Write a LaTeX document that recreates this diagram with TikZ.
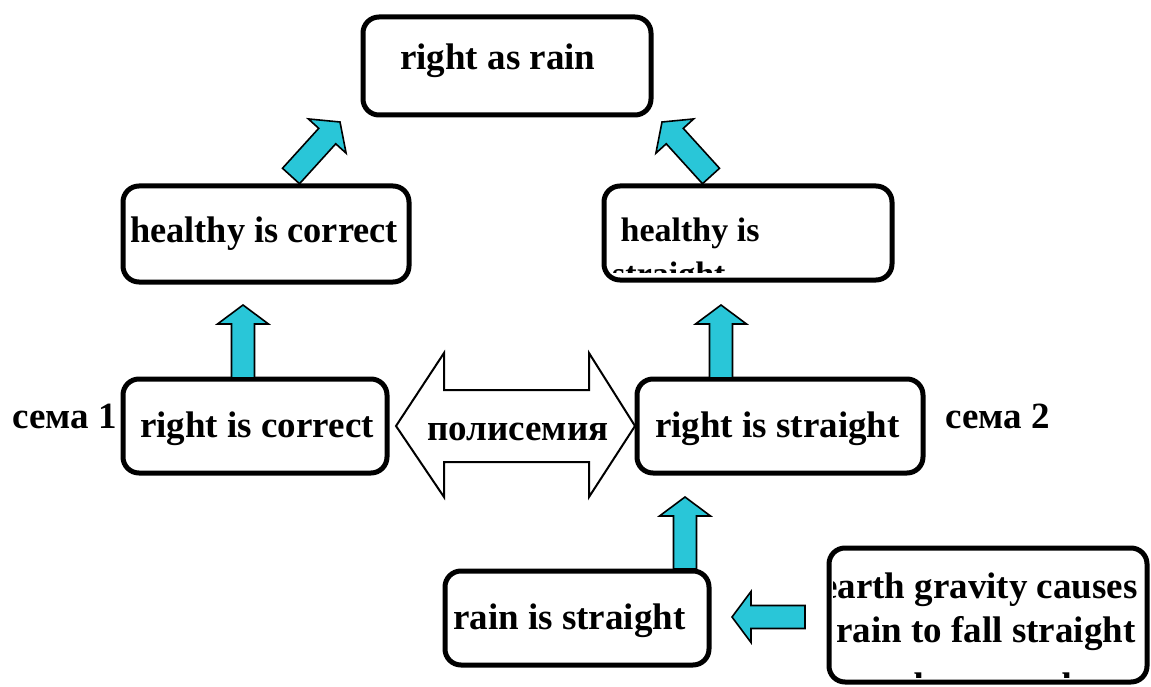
\documentclass[tikz,border=0pt]{standalone}
\usepackage{fontspec}
\setmainfont{Liberation Serif}
\usetikzlibrary{calc}
\definecolor{arrcyan}{RGB}{41,198,216}
\tikzset{
  box/.style={draw=black, line width=5pt, rounded corners=16pt, fill=white, inner sep=0pt},
  lbl/.style={font=\fontsize{37}{44}\selectfont\bfseries, inner sep=0pt, anchor=base west},
  slbl/.style={font=\fontsize{34}{40}\selectfont\bfseries, inner sep=0pt, anchor=base west},
  clbl/.style={font=\fontsize{37}{44}\selectfont\bfseries, inner sep=0pt, anchor=base},
  blockarrow/.style={draw=black, line width=1.6pt, fill=arrcyan, line join=miter},
  polyarrow/.style={draw=black, line width=2pt, fill=white, line join=miter},
}
% #1 tail, #2 tip
\newcommand\bkarrow[2]{%
  \coordinate (bk-h) at ($(#2)!19pt!(#1)$);
  \draw[blockarrow] ($(#1)!11.5pt!-90:(#2)$) -- ($(bk-h)!11.5pt!90:(#1)$) -- ($(bk-h)!25.5pt!90:(#1)$) -- (#2)
     -- ($(bk-h)!25.5pt!-90:(#1)$) -- ($(bk-h)!11.5pt!-90:(#1)$) -- ($(#1)!11.5pt!90:(#2)$) -- cycle;
}
\begin{document}
\begin{tikzpicture}[x=1pt,y=-1pt]
\useasboundingbox (0,0) rectangle (1151,687);

% boxes
\node[box, minimum width=288pt, minimum height=98pt] (rar) at (507,66) {};
\node[box, minimum width=286pt, minimum height=96pt] (hc) at (266,234) {};
\node[box, minimum width=288pt, minimum height=94pt] (hs) at (748,233) {};
\node[box, minimum width=264pt, minimum height=94pt] (rc) at (255,426) {};
\node[box, minimum width=286pt, minimum height=94pt] (rs) at (780,426) {};
\node[box, minimum width=264pt, minimum height=94pt] (ris) at (577,618) {};
\node[box, minimum width=318pt, minimum height=134pt] (eg) at (988,615) {};

% arrow end points
\coordinate (a1t) at (291,176); \coordinate (a1h) at (340,122);
\coordinate (a2t) at (711,176); \coordinate (a2h) at (662,122);
\coordinate (a3t) at (243,378); \coordinate (a3h) at (243,305);
\coordinate (a4t) at (721,378); \coordinate (a4h) at (721,305);
\coordinate (a5t) at (685,569); \coordinate (a5h) at (685,497);
\coordinate (a6t) at (805,617); \coordinate (a6h) at (732,617);

\bkarrow{a1t}{a1h}
\bkarrow{a2t}{a2h}
\bkarrow{a3t}{a3h}
\bkarrow{a4t}{a4h}
\bkarrow{a5t}{a5h}
\bkarrow{a6t}{a6h}

% double arrow between rc and rs
\draw[polyarrow] (396,426) -- (444,353) -- (444,390) -- (589,390) -- (589,353) -- (635,426)
  -- (589,497) -- (589,462) -- (444,462) -- (444,497) -- cycle;

% texts
\node[lbl] (t-rar) at (400,70) {right as rain};
\node[lbl] (t-hc) at (130,242) {\scalebox{0.982}[1]{healthy is correct}};
\begin{scope}
  \clip (606,188) rectangle (890,272);
  \node[slbl] (t-hs1) at (612,241) {\ healthy is};
  \node[slbl] (t-hs2) at (612,285) {straight};
\end{scope}
\node[lbl] (t-rc) at (140,437) {right is correct};
\node[lbl] (t-rs) at (655,437) {right is straight};
\node[lbl] (s1) at (12,428) {сема 1};
\node[lbl] (s2) at (945,428) {сема 2};
\node[lbl] (poly) at (427,440) {полисемия};
\node[lbl] (t-ris) at (453,629) {rain is straight};
\begin{scope}
  \clip (833,550) rectangle (1145,677);
  \node[lbl] (t-eg1) at (821,598) {earth gravity causes};
  \node[clbl] (t-eg2) at (986,642) {rain to fall straight};
  \node[clbl] (t-eg3) at (988,698) {downward};
\end{scope}
\end{tikzpicture}
\end{document}
